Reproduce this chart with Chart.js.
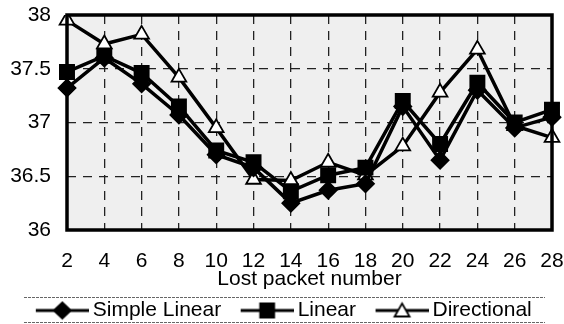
<!DOCTYPE html>
<html>
<head>
<meta charset="utf-8">
<script src="https://cdn.jsdelivr.net/npm/chart.js@4/dist/chart.umd.min.js"></script>
<style>
  html, body { margin: 0; padding: 0; background: #fff; }
  #wrap { width: 564px; height: 324px; position: relative; }
</style>
</head>
<body>
<div id="wrap"><canvas id="chart"></canvas></div>
<script>
const packets = ["2", "4", "6", "8", "10", "12", "14", "16", "18", "20", "22", "24", "26", "28"];
const simpleLinear = [37.32, 37.6, 37.36, 37.07, 36.7, 36.58, 36.25, 36.37, 36.43, 37.15, 36.65, 37.3, 36.95, 37.05];
const linear = [37.47, 37.62, 37.46, 37.15, 36.74, 36.63, 36.36, 36.51, 36.58, 37.2, 36.8, 37.37, 37.0, 37.12];
const directional = [37.95, 37.73, 37.82, 37.42, 36.95, 36.47, 36.46, 36.63, 36.51, 36.78, 37.28, 37.68, 36.97, 36.86];
const yTicks = [36, 36.5, 37, 37.5, 38];

const FONT = "'Liberation Sans', Arial, sans-serif";

// line + marker picture for the legend; box is 62 wide, picture 75 wide
function legendIcon(style) {
  const c = document.createElement("canvas");
  c.width = 75; c.height = 20;
  const g = c.getContext("2d");
  const a = 22, b = 75, m = (a + b) / 2, y = 10;
  g.strokeStyle = "#000";
  g.lineWidth = 3;
  g.beginPath(); g.moveTo(a, y); g.lineTo(b, y); g.stroke();
  g.lineWidth = 1.8;
  g.beginPath();
  if (style === "rectRot") {
    g.moveTo(m, y - 8); g.lineTo(m + 8.5, y); g.lineTo(m, y + 8); g.lineTo(m - 8.5, y);
  } else if (style === "rect") {
    g.rect(m - 7, y - 7, 14, 14);
  } else {
    g.moveTo(m, y - 7); g.lineTo(m + 7.5, y + 6); g.lineTo(m - 7.5, y + 6);
  }
  g.closePath();
  g.fillStyle = style === "triangle" ? "#fff" : "#000";
  g.fill(); g.stroke();
  return c;
}

function series(label, data, style, radius, fill) {
  return {
    label: label,
    data: data,
    borderColor: "#000",
    borderWidth: 3.5,
    pointStyle: style,
    pointRadius: radius,
    pointBackgroundColor: fill,
    pointBorderColor: "#000",
    pointBorderWidth: 1.8,
    tension: 0,
    legendIcon: legendIcon(style),
  };
}

const frame = {
  id: "frame",
  beforeDraw(chart) {
    const a = chart.chartArea, g = chart.ctx;
    g.save();
    g.fillStyle = "#efefef";
    g.fillRect(a.left, a.top, a.right - a.left, a.bottom - a.top);
    g.restore();
  },
  afterDatasetsDraw(chart) {
    const a = chart.chartArea, g = chart.ctx;
    g.save();
    g.strokeStyle = "#000";
    g.lineWidth = 3.5;
    g.strokeRect(a.left, a.top, a.right - a.left, a.bottom - a.top);
    g.restore();
  },
  afterDraw(chart) {
    const l = chart.legend, g = chart.ctx;
    const box = l.legendHitBoxes[0];
    const cy = box.top + box.height / 2;
    g.save();
    g.strokeStyle = "#666";
    g.lineWidth = 1;
    g.setLineDash([3, 1]);
    g.beginPath();
    g.moveTo(24, Math.round(cy - 14) + 0.5); g.lineTo(545, Math.round(cy - 14) + 0.5);
    g.moveTo(24, Math.round(cy + 11) + 0.5); g.lineTo(545, Math.round(cy + 11) + 0.5);
    g.stroke();
    g.restore();
  }
};

new Chart(document.getElementById("chart"), {
  type: "line",
  data: {
    labels: packets,
    datasets: [
      series("Simple Linear", simpleLinear, "rectRot", 8.5, "#000"),
      series("Linear", linear, "rect", 10, "#000"),
      series("Directional", directional, "triangle", 8.5, "#fff"),
    ]
  },
  options: {
    responsive: true,
    maintainAspectRatio: false,
    animation: false,
    layout: { padding: { top: 15, right: 12, left: 0, bottom: -7 } },
    plugins: {
      tooltip: { enabled: false },
      legend: {
        position: "bottom",
        labels: {
          usePointStyle: true,
          pointStyleWidth: 62,
          padding: 4,
          color: "#000",
          font: { family: FONT, size: 21 },
          generateLabels(chart) {
            return chart.data.datasets.map((ds, i) => ({
              text: ds.label,
              pointStyle: ds.legendIcon,
              fillStyle: "#000",
              strokeStyle: "#000",
              lineWidth: 0,
              datasetIndex: i,
              fontColor: "#000",
            }));
          }
        }
      }
    },
    scales: {
      x: {
        offset: false,
        grid: { color: "#222", lineWidth: 1.3, drawTicks: false },
        border: { display: false, dash: [9, 7] },
        ticks: { color: "#000", padding: 19, maxRotation: 0, autoSkip: false, font: { family: FONT, size: 21 } },
        title: { display: true, text: "Lost packet number", color: "#000", padding: { top: 0, bottom: 4 }, font: { family: FONT, size: 21 } },
        afterFit(scale) { scale.paddingLeft = 0; scale.paddingRight = 0; scale.height = 66; },
      },
      y: {
        min: yTicks[0],
        max: yTicks[yTicks.length - 1],
        afterBuildTicks(scale) { scale.ticks = yTicks.map(v => ({ value: v })); },
        afterFit(scale) { scale.width = 67; scale.paddingTop = 0; scale.paddingBottom = 0; },
        grid: { color: "#222", lineWidth: 1.3, drawTicks: false },
        border: { display: false, dash: [9, 7] },
        ticks: { color: "#000", padding: 16, font: { family: FONT, size: 21 }, callback: v => String(v) },
      }
    }
  },
  plugins: [frame]
});
</script>
</body>
</html>
